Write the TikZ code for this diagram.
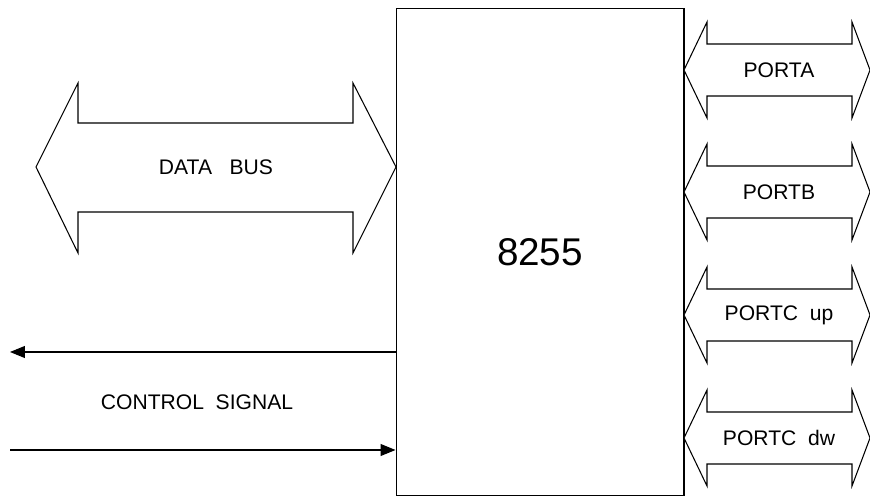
\documentclass[tikz,border=0pt]{standalone}
\usepackage{fontspec}
\setmainfont{Liberation Sans}
\usetikzlibrary{arrows.meta}

\begin{document}
\begin{tikzpicture}[x=0.02cm, y=-0.02cm, line width=0.6pt]
\tikzset{
  fatarrow/.style={draw, fill=white, line join=miter},
  labeltext/.style={font=\fontsize{12}{14}\selectfont, inner sep=0pt},
  chipbox/.style={draw, minimum width=5.76cm, minimum height=9.76cm, inner sep=0pt,
    font=\fontsize{22}{26}\selectfont},
  sigline/.style={-{Triangle[length=0.3cm, width=0.24cm]}}
}
\useasboundingbox (0,0) rectangle (870,499);

% the chip
\node[chipbox] (chip) at (540,252) {8255};

% data bus
\draw[fatarrow] (36,167) -- (78,83) -- (78,123) -- (353,123) -- (353,83)
  -- (396,167) -- (353,253) -- (353,212) -- (78,212) -- (78,253) -- cycle;
\node[labeltext] (databus) at (216,167) {DATA\ \ \ BUS};

% ports
\foreach \yc/\lbl/\nm in {70/PORTA/pa, 192/PORTB/pb, 315/PORTC\ \ up/pcu, 438/PORTC\ \ dw/pcd} {
  \draw[fatarrow] (684,\yc) -- (707,\yc-48) -- (707,\yc-26) -- (852,\yc-26) -- (852,\yc-48)
    -- (870,\yc) -- (852,\yc+48) -- (852,\yc+26) -- (707,\yc+26) -- (707,\yc+48) -- cycle;
  \node[labeltext] (\nm) at (779,\yc) {\lbl};
}

% control signals
\coordinate (ctlout) at (10,352);
\coordinate (ctlin) at (10,450);
\draw[sigline] (chip.west |- ctlout) -- (ctlout);
\draw[sigline] (ctlin) -- (chip.west |- ctlin);
\node[labeltext] (ctl) at (197,402) {CONTROL\ \ SIGNAL};
\end{tikzpicture}
\end{document}
